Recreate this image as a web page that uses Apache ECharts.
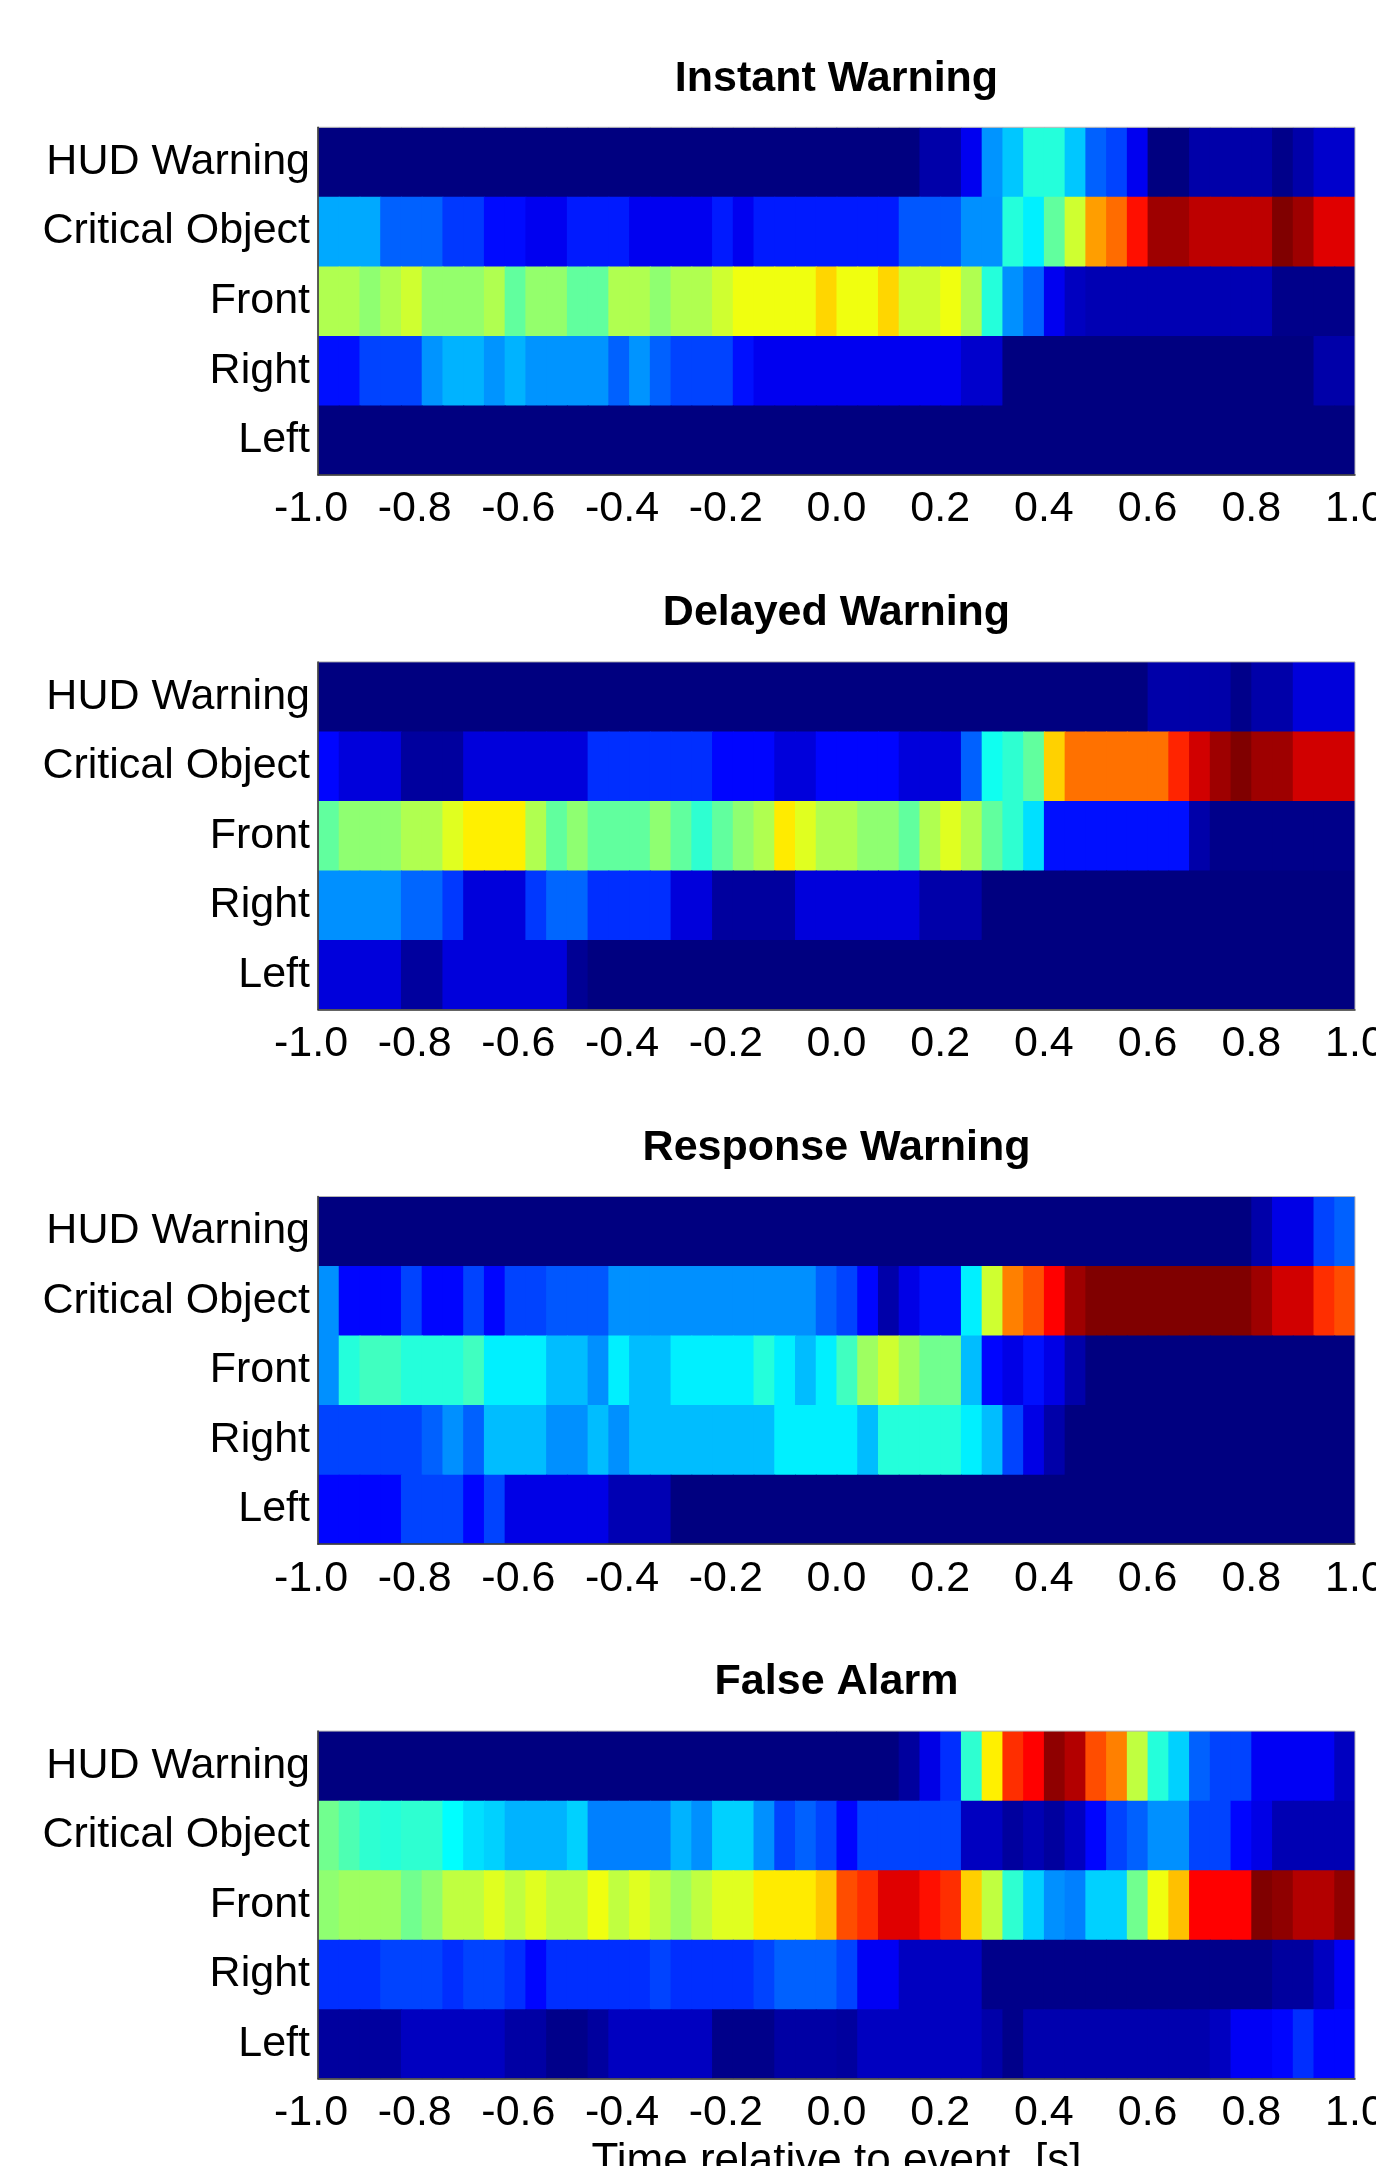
<!DOCTYPE html>
<html><head><meta charset="utf-8">
<script src="https://cdn.jsdelivr.net/npm/echarts@6/dist/echarts.min.js"></script>
<style>html,body{margin:0;padding:0;background:#fff}#c{width:1376px;height:2166px}</style>
</head><body><div id="c"></div>
<script>
// ---------- data ----------
const rowNames = ['HUD Warning', 'Critical Object', 'Front', 'Right', 'Left'];
const panelTitles = ['Instant Warning', 'Delayed Warning', 'Response Warning', 'False Alarm'];
const tickLabels = ['-1.0', '-0.8', '-0.6', '-0.4', '-0.2', '0.0', '0.2', '0.4', '0.6', '0.8', '1.0'];
const xAxisTitle = 'Time relative to event  [s]';
const nBins = 50; // 0.04 s bins from -1.0 to 1.0

// Instant Warning
const instHud   = [0,0,0,0,0,0,0,0,0,0, 0,0,0,0,0,0,0,0,0,0, 0,0,0,0,0,0,0,0,0,0.04, 0.04,0.11,0.27,0.32,0.41,0.41,0.32,0.22,0.19,0.11, 0,0,0.04,0.04,0.04,0.04,0.01,0.04,0.075,0.075];
const instCrit  = [0.29,0.29,0.29,0.22,0.22,0.22,0.18,0.18,0.135,0.135, 0.11,0.11,0.15,0.15,0.15,0.11,0.11,0.11,0.11,0.15, 0.11,0.15,0.15,0.15,0.15,0.15,0.15,0.15,0.21,0.21, 0.21,0.266,0.266,0.41,0.36,0.47,0.578,0.72,0.77,0.86, 0.97,0.97,0.94,0.94,0.94,0.94,1.0,0.97,0.906,0.906];
const instFront = [0.547,0.547,0.515,0.547,0.578,0.52,0.52,0.52,0.547,0.47, 0.52,0.52,0.47,0.47,0.547,0.547,0.515,0.547,0.547,0.578, 0.61,0.61,0.61,0.61,0.665,0.61,0.61,0.665,0.578,0.578, 0.61,0.547,0.41,0.266,0.22,0.11,0.0625,0.05,0.05,0.05, 0.05,0.05,0.05,0.05,0.05,0.05,0.01,0.01,0.01,0.01];
const instRight = [0.14,0.14,0.19,0.19,0.19,0.27,0.3,0.3,0.27,0.3, 0.27,0.27,0.27,0.27,0.22,0.27,0.22,0.19,0.19,0.19, 0.14,0.11,0.11,0.11,0.11,0.11,0.11,0.11,0.11,0.11, 0.11,0.075,0.075,0,0,0,0,0,0,0, 0,0,0,0,0,0,0,0,0.04,0.04];
const instLeft  = [0,0,0,0,0,0,0,0,0,0, 0,0,0,0,0,0,0,0,0,0, 0,0,0,0,0,0,0,0,0,0, 0,0,0,0,0,0,0,0,0,0, 0,0,0,0,0,0,0,0,0,0];

// Delayed Warning
const delHud   = [0,0,0,0,0,0,0,0,0,0, 0,0,0,0,0,0,0,0,0,0, 0,0,0,0,0,0,0,0,0,0, 0,0,0,0,0,0,0,0,0,0, 0.04,0.04,0.04,0.04,0.01,0.04,0.04,0.09,0.09,0.09];
const delCrit  = [0.13,0.09,0.09,0.09,0.03,0.03,0.03,0.09,0.09,0.09, 0.09,0.09,0.09,0.17,0.17,0.17,0.17,0.17,0.17,0.13, 0.13,0.13,0.09,0.09,0.13,0.13,0.13,0.13,0.09,0.09, 0.09,0.22,0.39,0.42,0.47,0.67,0.765,0.765,0.765,0.765, 0.765,0.84,0.92,0.97,1.0,0.97,0.97,0.92,0.92,0.92];
const delFront = [0.47,0.515,0.515,0.515,0.547,0.547,0.594,0.64,0.64,0.64, 0.547,0.47,0.515,0.47,0.47,0.47,0.515,0.47,0.42,0.47, 0.515,0.547,0.645,0.594,0.547,0.547,0.515,0.515,0.47,0.547, 0.594,0.547,0.47,0.42,0.344,0.14,0.14,0.14,0.14,0.14, 0.14,0.14,0.04,0.01,0.01,0.01,0.01,0.01,0.01,0.01];
const delRight = [0.266,0.266,0.266,0.266,0.225,0.225,0.18,0.09,0.09,0.09, 0.18,0.225,0.225,0.17,0.17,0.17,0.17,0.09,0.09,0.03, 0.03,0.03,0.03,0.09,0.09,0.09,0.09,0.09,0.09,0.04, 0.04,0.04,0,0,0,0,0,0,0,0, 0,0,0,0,0,0,0,0,0,0];
const delLeft  = [0.09,0.09,0.09,0.09,0.03,0.03,0.09,0.09,0.09,0.09, 0.09,0.09,0.02,0,0,0,0,0,0,0, 0,0,0,0,0,0,0,0,0,0, 0,0,0,0,0,0,0,0,0,0, 0,0,0,0,0,0,0,0,0,0];

// Response Warning
const respHud   = [0,0,0,0,0,0,0,0,0,0, 0,0,0,0,0,0,0,0,0,0, 0,0,0,0,0,0,0,0,0,0, 0,0,0,0,0,0,0,0,0,0, 0,0,0,0,0,0.04,0.1,0.1,0.19,0.22];
const respCrit  = [0.266,0.13,0.13,0.13,0.19,0.13,0.13,0.19,0.13,0.19, 0.19,0.21,0.21,0.21,0.266,0.266,0.266,0.266,0.266,0.266, 0.266,0.266,0.266,0.266,0.22,0.19,0.13,0.04,0.1,0.14, 0.14,0.36,0.578,0.75,0.797,0.875,0.97,1,1,1, 1,1,1,1,1,0.97,0.92,0.92,0.83,0.8];
const respFront = [0.266,0.41,0.4375,0.4375,0.41,0.41,0.41,0.4375,0.36,0.36, 0.36,0.31,0.31,0.266,0.36,0.31,0.31,0.36,0.36,0.36, 0.36,0.41,0.36,0.31,0.36,0.4375,0.53,0.578,0.53,0.485, 0.485,0.31,0.13,0.1,0.14,0.1,0.04,0,0,0, 0,0,0,0,0,0,0,0,0,0];
const respRight = [0.19,0.19,0.19,0.19,0.19,0.22,0.266,0.22,0.31,0.31, 0.31,0.266,0.266,0.31,0.266,0.31,0.31,0.31,0.31,0.31, 0.31,0.31,0.36,0.36,0.36,0.36,0.31,0.41,0.41,0.41, 0.41,0.36,0.31,0.19,0.1,0.04,0,0,0,0, 0,0,0,0,0,0,0,0,0,0];
const respLeft  = [0.13,0.13,0.13,0.13,0.19,0.19,0.19,0.13,0.19,0.1, 0.1,0.1,0.1,0.1,0.05,0.05,0.05,0,0,0, 0,0,0,0,0,0,0,0,0,0, 0,0,0,0,0,0,0,0,0,0, 0,0,0,0,0,0,0,0,0,0];

// False Alarm
const faHud   = [0,0,0,0,0,0,0,0,0,0, 0,0,0,0,0,0,0,0,0,0, 0,0,0,0,0,0,0,0,0.03,0.1, 0.17,0.42,0.64,0.83,0.875,0.985,0.95,0.8,0.75,0.5625, 0.41,0.33,0.22,0.19,0.19,0.115,0.115,0.115,0.115,0.0625];
const faCrit  = [0.485,0.45,0.42,0.41,0.42,0.42,0.375,0.344,0.33,0.3, 0.3,0.3,0.33,0.25,0.25,0.25,0.25,0.3,0.266,0.33, 0.33,0.266,0.19,0.22,0.19,0.13,0.19,0.19,0.19,0.19, 0.19,0.0625,0.0625,0.03,0.05,0.03,0.0625,0.13,0.19,0.22, 0.266,0.266,0.19,0.19,0.13,0.1,0.05,0.05,0.05,0.05];
const faFront = [0.515,0.53,0.53,0.53,0.485,0.515,0.5625,0.5625,0.594,0.5625, 0.594,0.5625,0.5625,0.61,0.5625,0.594,0.5625,0.53,0.5625,0.594, 0.594,0.645,0.645,0.645,0.68,0.8,0.83,0.906,0.906,0.86, 0.83,0.672,0.5625,0.42,0.33,0.266,0.25,0.33,0.33,0.485, 0.61,0.6875,0.875,0.875,0.875,1.0,0.985,0.95,0.95,0.985];
const faRight = [0.17,0.17,0.17,0.19,0.19,0.19,0.17,0.19,0.19,0.17, 0.13,0.17,0.17,0.17,0.17,0.17,0.19,0.17,0.17,0.17, 0.17,0.19,0.22,0.22,0.22,0.19,0.115,0.115,0.0625,0.0625, 0.0625,0.0625,0.01,0.01,0.01,0.01,0.01,0.01,0.01,0.01, 0.01,0.01,0.01,0.01,0.01,0.01,0.03,0.03,0.0625,0.115];
const faLeft  = [0.03,0.03,0.03,0.03,0.0625,0.0625,0.0625,0.0625,0.0625,0.035, 0.035,0.01,0.01,0.03,0.0625,0.0625,0.0625,0.0625,0.0625,0.01, 0.01,0.01,0.035,0.035,0.035,0.03,0.0625,0.0625,0.0625,0.0625, 0.0625,0.0625,0.04,0.01,0.045,0.045,0.045,0.045,0.045,0.045, 0.045,0.045,0.045,0.0625,0.115,0.115,0.13,0.17,0.13,0.13];

const panelRows = [
  [instHud, instCrit, instFront, instRight, instLeft],
  [delHud, delCrit, delFront, delRight, delLeft],
  [respHud, respCrit, respFront, respRight, respLeft],
  [faHud, faCrit, faFront, faRight, faLeft]
];

// jet colormap stops (evenly spaced)
const jet = ['#000080', '#0000ff', '#0080ff', '#00ffff', '#80ff80', '#ffff00', '#ff8000', '#ff0000', '#800000'];

// ---------- layout ----------
const FONT = '"Liberation Sans", Arial, Helvetica, sans-serif';
const LEFT = 318, WIDTH = 1037, TOP0 = 127.3, STEP = 534.6, HEIGHT = 347.7;
const binLabels = [];
for (let i = 0; i < nBins; i++) binLabels.push(String(i));

// seamless cells: each cell overlaps its right/lower neighbour by 1px, which then paints over it
function renderCell(params, api) {
  const c = api.value(0), r = api.value(1);
  const p = api.coord([c, r]);
  const s = api.size([1, 1]);
  const ex = c < nBins - 1 ? 1 : 0;
  const ey = r < rowNames.length - 1 ? 1 : 0;
  return {
    type: 'rect',
    shape: { x: p[0] - s[0] / 2, y: p[1] - s[1] / 2, width: s[0] + ex, height: s[1] + ey },
    style: { fill: api.visual('color') }
  };
}

const titles = [], grids = [], xAxes = [], yAxes = [], series = [];
panelTitles.forEach((t, p) => {
  const top = TOP0 + p * STEP;
  titles.push({
    text: t, left: LEFT + WIDTH / 2, textAlign: 'center', top: top - 70, padding: 0,
    textStyle: { fontFamily: FONT, fontSize: 43, fontWeight: 'bold', color: '#000' }
  });
  grids.push({ left: LEFT, top: top, width: WIDTH, height: HEIGHT, show: true, z: 10,
    outerBoundsMode: 'none', containLabel: false,
    backgroundColor: 'transparent', borderColor: '#b5b5b5', borderWidth: 1 });
  xAxes.push({ type: 'category', gridIndex: p, data: binLabels, show: false });
  const valAxis = {
    type: 'value', gridIndex: p, min: -1, max: 1, interval: 0.2, position: 'bottom', z: 11,
    axisLine: { show: true, onZero: false, lineStyle: { color: '#333', width: 1.5 } },
    axisTick: { show: false }, splitLine: { show: false },
    axisLabel: {
      margin: 13, showMinLabel: true, showMaxLabel: true, hideOverlap: false,
      color: '#000', fontFamily: FONT, fontSize: 43,
      formatter: (v, idx) => tickLabels[idx].charAt(0) === '-' ? '{neg|' + tickLabels[idx] + '}' : tickLabels[idx],
      rich: { neg: { fontFamily: FONT, fontSize: 43, color: '#000', padding: [0, 14, 0, 0] } }
    }
  };
  if (p === panelTitles.length - 1) {
    valAxis.name = xAxisTitle;
    valAxis.nameLocation = 'middle';
    valAxis.nameGap = 61;
    valAxis.nameTextStyle = { fontFamily: FONT, fontSize: 44, color: '#000' };
  }
  xAxes.push(valAxis);
  yAxes.push({
    type: 'category', gridIndex: p, data: rowNames, inverse: true, z: 11,
    axisLine: { show: true, onZero: false, lineStyle: { color: '#333', width: 1.5 } },
    axisTick: { show: false }, splitLine: { show: false },
    axisLabel: { margin: 8, color: '#000', fontFamily: FONT, fontSize: 43, interval: 0 }
  });
  const data = [];
  panelRows[p].forEach((row, r) => {
    row.forEach((v, c) => data.push([c, r, v]));
  });
  series.push({
    type: 'custom', xAxisIndex: p * 2, yAxisIndex: p, data: data,
    encode: { x: 0, y: 1 }, renderItem: renderCell, clip: true, silent: true
  });
});

const chart = echarts.init(document.getElementById('c'), null, { renderer: 'canvas' });
chart.setOption({
  animation: false,
  backgroundColor: '#fff',
  title: titles,
  grid: grids,
  xAxis: xAxes,
  yAxis: yAxes,
  visualMap: {
    type: 'continuous', show: false, min: 0, max: 1, dimension: 2, seriesIndex: [0, 1, 2, 3],
    inRange: { color: jet }
  },
  series: series
});
</script>
</body></html>
